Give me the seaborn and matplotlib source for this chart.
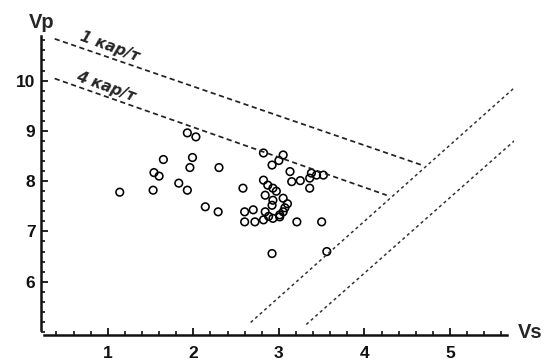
import matplotlib
matplotlib.use("Agg")
import matplotlib.pyplot as plt
import seaborn as sns
import pandas as pd
from matplotlib.ticker import MultipleLocator

sns.set_style("white")
plt.rcParams['font.family'] = ['Liberation Sans', 'DejaVu Sans']

# Scatter data (Vs, Vp)
vs = [1.93, 2.03, 1.65, 1.99, 1.96, 2.30, 1.54, 1.60, 1.14, 1.53, 1.83, 1.93, 2.14, 2.29,
      2.82, 2.92, 3.00, 3.05, 3.13, 3.15, 3.25, 3.38, 3.44, 3.36, 3.36, 3.52,
      2.58, 2.82, 2.87, 2.93, 2.84, 2.93, 3.05, 2.92, 2.60, 2.70, 2.84, 3.07, 3.05, 3.01,
      2.60, 2.72, 2.82, 2.93, 3.01, 3.21, 3.50, 2.92, 3.56, 2.97, 3.10, 2.88]
vp = [8.96, 8.88, 8.43, 8.47, 8.27, 8.27, 8.17, 8.10, 7.78, 7.82, 7.96, 7.82, 7.49, 7.39,
      8.56, 8.32, 8.41, 8.52, 8.19, 7.99, 8.01, 8.16, 8.12, 8.06, 7.86, 8.12,
      7.86, 8.02, 7.92, 7.86, 7.72, 7.62, 7.66, 7.52, 7.39, 7.43, 7.39, 7.47, 7.39, 7.33,
      7.19, 7.19, 7.23, 7.26, 7.29, 7.19, 7.19, 6.56, 6.60, 7.80, 7.55, 7.30]

# Boundary lines (endpoints)
line1_x = [0.38, 4.67]
line1_y = [10.83, 8.32]
line4_x = [0.38, 4.26]
line4_y = [10.04, 7.72]
rise1_x = [2.67, 5.82]
rise1_y = [5.19, 9.96]
rise2_x = [3.32, 5.85]
rise2_y = [5.15, 8.95]

line_labels = ["1 кар/т", "4 кар/т"]
x_ticks = [1, 2, 3, 4, 5]
y_ticks = [6, 7, 8, 9, 10]

df = pd.DataFrame({"Vs": vs, "Vp": vp})

fig = plt.figure(figsize=(5.47, 3.64), dpi=100)
ax = fig.add_axes([0.075, 0.081, 0.865, 0.822])

sns.scatterplot(data=df, x="Vs", y="Vp", ax=ax, marker="o", s=30,
                facecolor="none", edgecolor="black", linewidth=1.15, legend=False)

ls1 = (0, (3.0, 2.0))
ax.plot(line1_x, line1_y, color="#222222", lw=1.25, linestyle=ls1)
ax.plot(line4_x, line4_y, color="#222222", lw=1.25, linestyle=ls1)
ls2 = (0, (2.0, 2.0))
ax.plot(rise1_x, rise1_y, color="#333333", lw=1.1, linestyle=ls2)
ax.plot(rise2_x, rise2_y, color="#333333", lw=1.1, linestyle=ls2)

ann_font = dict(family=["DejaVu Sans"], fontsize=11, fontweight="bold",
                fontstyle="oblique", ha="left", va="baseline")
ax.text(0.66, 10.80, line_labels[0], rotation=-20, rotation_mode="anchor", **ann_font)
ax.text(0.62, 10.01, line_labels[1], rotation=-20, rotation_mode="anchor", **ann_font)

ax.set_xlim(0.22, 5.75)
ax.set_ylim(4.95, 10.9)

for s in ["top", "right"]:
    ax.spines[s].set_visible(False)
ax.spines["bottom"].set_bounds(0.26, 5.67)
ax.spines["left"].set_bounds(5.03, 10.88)
ax.spines["bottom"].set_linewidth(1.8)
ax.spines["left"].set_linewidth(1.8)
ax.spines["bottom"].set_color("#111111")
ax.spines["left"].set_color("#111111")

ax.set_xticks(x_ticks)
ax.set_yticks(y_ticks)
ax.xaxis.set_minor_locator(MultipleLocator(0.2))
ax.yaxis.set_minor_locator(MultipleLocator(0.2))
ax.tick_params(axis="both", which="major", direction="in", length=5, width=1.3,
               labelsize=12.5, colors="#111111")
ax.tick_params(axis="both", which="minor", direction="in", length=3, width=1.2,
               colors="#111111")
ax.tick_params(axis="x", which="major", pad=8)
ax.tick_params(axis="y", which="major", pad=4)
ax.tick_params(bottom=True, left=True, which="both")
for lab in ax.get_xticklabels() + ax.get_yticklabels():
    lab.set_fontweight("bold")

ax.set_xlabel("")
ax.set_ylabel("")
fig.text(42 / 547, 1 - 22 / 364, "Vp", fontsize=14.5, fontweight="bold", ha="center", va="center")
fig.text(530 / 547, 1 - 333 / 364, "Vs", fontsize=14.5, fontweight="bold", ha="center", va="center")

fig.savefig("out.png", dpi=100)
